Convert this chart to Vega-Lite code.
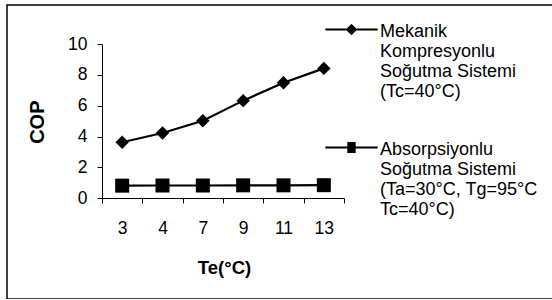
{
  "$schema": "https://vega.github.io/schema/vega-lite/v6.json",
  "width": 555,
  "height": 294,
  "autosize": {"type": "none"},
  "padding": {"left": 7, "top": 5, "right": 0, "bottom": 0},
  "background": "white",
  "config": {
    "font": "Liberation Sans",
    "view": {"stroke": "black", "strokeWidth": 1.5}
  },
  "data": {
    "values": [
      {"te": 3, "cop": 3.63, "series": "Mekanik Kompresyonlu Soğutma Sistemi (Tc=40°C)"},
      {"te": 4, "cop": 4.23, "series": "Mekanik Kompresyonlu Soğutma Sistemi (Tc=40°C)"},
      {"te": 7, "cop": 5.03, "series": "Mekanik Kompresyonlu Soğutma Sistemi (Tc=40°C)"},
      {"te": 9, "cop": 6.33, "series": "Mekanik Kompresyonlu Soğutma Sistemi (Tc=40°C)"},
      {"te": 11, "cop": 7.49, "series": "Mekanik Kompresyonlu Soğutma Sistemi (Tc=40°C)"},
      {"te": 13, "cop": 8.42, "series": "Mekanik Kompresyonlu Soğutma Sistemi (Tc=40°C)"},
      {"te": 3, "cop": 0.82, "series": "Absorpsiyonlu Soğutma Sistemi (Ta=30°C, Tg=95°C Tc=40°C)"},
      {"te": 4, "cop": 0.83, "series": "Absorpsiyonlu Soğutma Sistemi (Ta=30°C, Tg=95°C Tc=40°C)"},
      {"te": 7, "cop": 0.83, "series": "Absorpsiyonlu Soğutma Sistemi (Ta=30°C, Tg=95°C Tc=40°C)"},
      {"te": 9, "cop": 0.84, "series": "Absorpsiyonlu Soğutma Sistemi (Ta=30°C, Tg=95°C Tc=40°C)"},
      {"te": 11, "cop": 0.84, "series": "Absorpsiyonlu Soğutma Sistemi (Ta=30°C, Tg=95°C Tc=40°C)"},
      {"te": 13, "cop": 0.85, "series": "Absorpsiyonlu Soğutma Sistemi (Ta=30°C, Tg=95°C Tc=40°C)"}
    ]
  },
  "encoding": {
    "x": {
      "field": "te",
      "type": "ordinal",
      "sort": [3, 4, 7, 9, 11, 13],
      "scale": {"range": [95, 337], "paddingInner": 0, "paddingOuter": 0},
      "axis": {
        "title": "Te(°C)",
        "orient": "bottom",
        "offset": -101,
        "labelAngle": 0,
        "tickBand": "extent",
        "tickSize": 5,
        "tickColor": "black",
        "domainColor": "black",
        "labelPadding": 16,
        "labelFontSize": 17.5,
        "labelColor": "black",
        "titleFontSize": 18.5,
        "titleFontWeight": "bold",
        "titleColor": "black",
        "titleX": 217,
        "titleY": 69.5,
        "titleBaseline": "middle",
        "titleAlign": "center",
        "grid": false
      }
    },
    "y": {
      "field": "cop",
      "type": "quantitative",
      "scale": {"domain": [0, 10], "range": [193.3, 39], "nice": false},
      "axis": {
        "title": "COP",
        "orient": "left",
        "offset": -95,
        "values": [0, 2, 4, 6, 8, 10],
        "grid": false,
        "tickSize": 5,
        "tickColor": "black",
        "domainColor": "black",
        "labelPadding": 10,
        "labelFontSize": 17.5,
        "labelColor": "black",
        "titleFontSize": 20,
        "titleFontWeight": "bold",
        "titleColor": "black",
        "titleX": -64.5,
        "titleY": 116.7,
        "titleAngle": 270,
        "titleBaseline": "middle",
        "titleAlign": "center"
      }
    }
  },
  "layer": [
    {
      "mark": {"type": "line", "color": "black", "strokeWidth": 2.2},
      "encoding": {"detail": {"field": "series"}}
    },
    {
      "mark": {"type": "point", "filled": true, "color": "black", "opacity": 1},
      "encoding": {
        "shape": {
          "field": "series",
          "type": "nominal",
          "scale": {
            "domain": ["Mekanik Kompresyonlu Soğutma Sistemi (Tc=40°C)", "Absorpsiyonlu Soğutma Sistemi (Ta=30°C, Tg=95°C Tc=40°C)"],
            "range": ["diamond", "square"]
          },
          "legend": null
        },
        "size": {
          "condition": {"test": "datum.series == 'Absorpsiyonlu Soğutma Sistemi (Ta=30°C, Tg=95°C Tc=40°C)'", "value": 196},
          "value": 180
        }
      }
    },
    {
      "mark": {"type": "point", "filled": true, "color": "black", "opacity": 0, "size": 2735},
      "encoding": {
        "shape": {
          "field": "series",
          "type": "nominal",
          "scale": {
            "domain": ["Mekanik Kompresyonlu Soğutma Sistemi (Tc=40°C)", "Absorpsiyonlu Soğutma Sistemi (Ta=30°C, Tg=95°C Tc=40°C)"],
            "range": ["M-1,0.232H1V0.308H-1ZM0,0.05L0.22,0.27L0,0.49L-0.22,0.27Z", "M-1,0.232H1V0.308H-1ZM-0.16,0.06H0.16V0.48H-0.16Z"]
          },
          "legend": {
            "title": null,
            "orient": "none",
            "legendX": 318,
            "legendY": -9,
            "padding": 0,
            "rowPadding": 13,
            "labelFontSize": 18,
            "labelLineHeight": 23,
            "labelBaseline": "top",
            "labelColor": "black",
            "labelLimit": 400,
            "labelOffset": 2,
            "symbolSize": 2735,
            "symbolStrokeWidth": 0,
            "symbolFillColor": "black",
            "symbolOpacity": 1,
            "labelExpr": "datum.label == 'Mekanik Kompresyonlu Soğutma Sistemi (Tc=40°C)' ? ['Mekanik', 'Kompresyonlu', 'Soğutma Sistemi', '(Tc=40°C)'] : ['Absorpsiyonlu', 'Soğutma Sistemi', '(Ta=30°C, Tg=95°C', 'Tc=40°C)']"
          }
        }
      }
    }
  ],
  "resolve": {"scale": {"shape": "independent"}}
}
